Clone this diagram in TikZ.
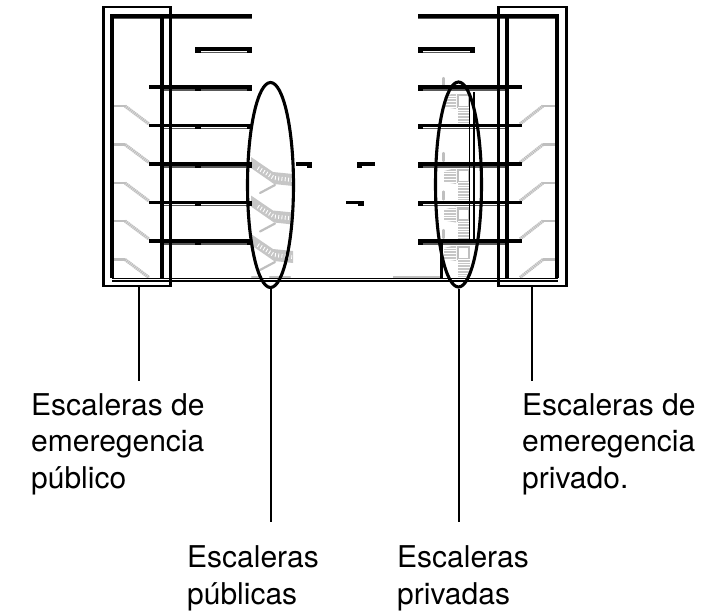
\documentclass[tikz,border=0pt]{standalone}
\usepackage{fontspec}
\setmainfont{TeX Gyre Heros}
\usetikzlibrary{shapes.geometric}
\tikzset{
  outerwall/.style={draw,line width=2.9pt,black,inner sep=0pt,minimum height=279pt},
  innerwall/.style={line width=3.8pt,black},
  slab/.style={line width=3.6pt,black},
  blob/.style={line width=5.4pt,black},
  under/.style={line width=1.3pt,gray!70!black},
  thin/.style={line width=1.2pt,black},
  callout/.style={draw,ellipse,line width=3.1pt,minimum width=46pt,minimum height=205pt,inner sep=0pt},
  leader/.style={line width=2pt,black},
  stairg/.style={line width=2.2pt,gray!50,line cap=round,line join=round},
  flight/.style={line width=3.2pt,gray!50,dash pattern=on 1.4pt off 0.6pt},
  lab/.style={align=left,anchor=north west,inner sep=0pt,font=\fontsize{30}{36.8}\selectfont},
}
\begin{document}
\begin{tikzpicture}[x=1pt,y=-1pt]
\useasboundingbox (0,0) rectangle (722,613);
% emergency stairs
\foreach \y in {106,144.5,183,221,259.5}{
  \draw[stairg] (113,\y) -- (125,\y);
  \draw[flight] (125,\y) -- (149,\y+18);
  \draw[stairg] (556,\y) -- (543,\y);
  \draw[flight] (543,\y) -- (520,\y+18);
}
% public stairs
\foreach \y in {157,195.5,234}{
  \fill[gray!45] (251,\y) -- (273,\y+15) -- (293,\y+17) -- (293,\y+29) -- (274,\y+27) -- (251,\y+11) -- cycle;
  \draw[white,line width=4pt,dash pattern=on 0.9pt off 2.4pt] (258,\y+11) -- (274,\y+21) -- (292,\y+23);
  \draw[stairg] (260,\y+36) -- (275,\y+28);
}
\draw[stairg] (252,277) -- (260,277);
\draw[stairg] (270,277) -- (290,277);
% private stairs
\foreach \y in {93,168,206.5,245}{
  \draw[stairg] (443.5,\y-15) -- (443.5,\y-7);
  \fill[gray!45] (444,\y+3) -- (456,\y) -- (456,\y+16) -- (444,\y+14) -- cycle;
  \draw[white,line width=12pt,dash pattern=on 0.7pt off 2pt] (450,\y) -- (450,\y+16);
  \draw[gray!50,line width=2.6pt] (458,\y+2) rectangle (469,\y+14);
  \fill[gray!45] (458,\y+14) rectangle (470,\y+32);
  \draw[white,line width=12pt,dash pattern=on 0.7pt off 2pt] (464,\y+14) -- (464,\y+32);
}
% floors
\foreach \y in {87,125.5,164,202.5,241}{
  \draw[under] (162,\y+2.9) -- (250,\y+2.9);
  \draw[slab] (149,\y) -- (252,\y);
  \draw[blob] (195,\y+1) -- (200.5,\y+1);
  \draw[blob] (247,\y+1) -- (252,\y+1);
  \draw[under] (420,\y+2.9) -- (505,\y+2.9);
  \draw[slab] (418,\y) -- (522,\y);
  \draw[blob] (418,\y+1) -- (423,\y+1);
}
\draw[under] (112,18.2) -- (252,18.2);
\draw[under] (418,18.2) -- (557,18.2);
\draw[slab] (112,16) -- (252,16);
\draw[slab] (418,16) -- (557,16);
\draw[slab] (195,48.7) -- (252,48.7);
\draw[under] (200,52.5) -- (248,52.5);
\draw[blob] (195,50) -- (200.5,50);
\draw[blob] (247,50) -- (252,50);
\draw[slab] (418,48.7) -- (475,48.7);
\draw[under] (423,52.5) -- (470,52.5);
\draw[blob] (418,50) -- (423,50);
\draw[blob] (470,50) -- (475,50);
% small central pieces
\draw[slab] (296,164) -- (312,164);
\draw[blob] (307,165) -- (312,165);
\draw[slab] (357,164) -- (375,164);
\draw[blob] (357,165) -- (362,165);
\draw[slab] (346,202.5) -- (364,202.5);
\draw[blob] (358,203.5) -- (364,203.5);
% building walls
\node[outerwall,minimum width=67pt] (pubbox) at (137.2,146.5) {};
\node[outerwall,minimum width=68pt] (privbox) at (532.2,146.5) {};
\draw[innerwall] (112.3,278) -- (112.3,14.2);
\draw[innerwall] (162.3,278) -- (162.3,16);
\draw[innerwall] (506.7,278) -- (506.7,16);
\draw[innerwall] (557.3,278) -- (557.3,14.2);
% lower ground lines and private stair shaft
\draw[stairg,line cap=butt] (393,277) -- (441,277);
\draw[innerwall,line width=3pt] (441,241) -- (441,278);
\draw[thin] (112,278.3) -- (558,278.3);
\draw[thin] (112,281) -- (558,281);
\draw[thin] (469.3,92) -- (469.3,241);
\draw[thin] (474,92) -- (474,241);
% callouts
\node[callout] (pubell) at (270.5,185) {};
\node[callout] (privell) at (458.5,184.5) {};
% labels
\node[lab] (t1) at (31,393) {Escaleras de\\emeregencia\\público};
\node[lab] (t2) at (522,393) {Escaleras de\\emeregencia\\privado.};
\node[lab] (t3) at (187,545.5) {Escaleras\\públicas};
\node[lab] (t4) at (397,545.5) {Escaleras\\privadas};
\coordinate (e1) at (139,381);
\coordinate (e2) at (532,381);
\coordinate (e3) at (271,522);
\coordinate (e4) at (459,522);
\draw[leader] (pubbox.south -| e1) -- (e1);
\draw[leader] (privbox.south -| e2) -- (e2);
\draw[leader] (pubell.south -| e3) -- (e3);
\draw[leader] (privell.south -| e4) -- (e4);
\end{tikzpicture}
\end{document}
